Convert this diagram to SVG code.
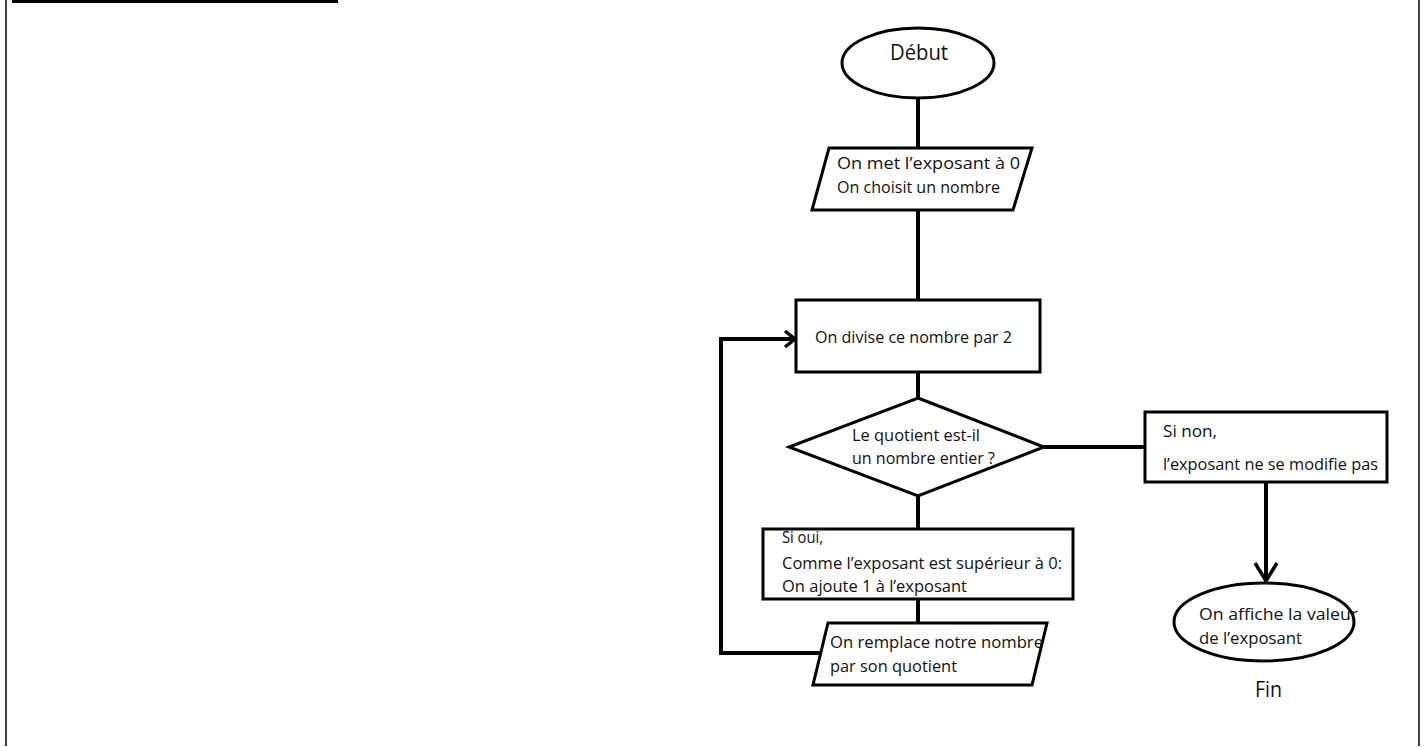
<svg xmlns="http://www.w3.org/2000/svg" width="1427" height="747" viewBox="0 0 1427 747">
<style>
.shape{fill:#fff;stroke:#000;stroke-width:3}
.conn{fill:none;stroke:#000;stroke-width:4}
.head{fill:none;stroke:#000;stroke-width:3.5;stroke-linejoin:miter}
text{font-family:"Open Sans","Liberation Sans",sans-serif;font-size:17px;fill:#111}
.big{font-size:22px}
</style>
<rect width="1427" height="747" fill="#fff"/>
<g id="frame">
<line x1="6" y1="0" x2="6" y2="746" stroke="#000" stroke-width="1.5"/>
<line x1="1419" y1="0" x2="1419" y2="746" stroke="#000" stroke-width="1.5"/>
<line x1="12" y1="1.5" x2="338" y2="1.5" stroke="#000" stroke-width="3"/>
</g>
<g id="connectors">
<line class="conn" x1="918" y1="98" x2="918" y2="148"/>
<line class="conn" x1="918" y1="210" x2="918" y2="300"/>
<line class="conn" x1="918" y1="372" x2="918" y2="398"/>
<line class="conn" x1="918" y1="496" x2="918" y2="529"/>
<line class="conn" x1="918" y1="599" x2="918" y2="623"/>
<line class="conn" x1="1044" y1="447" x2="1145" y2="447"/>
<line class="conn" x1="1266" y1="482" x2="1266" y2="580"/>
<polyline class="head" points="1255,563 1266,581 1277,563"/>
<polyline class="conn" points="821,653 721,653 721,339 793,339"/>
<polyline class="head" points="785,331 795,339 785,347"/>
</g>
<g id="debut">
<ellipse class="shape" cx="918" cy="63" rx="76" ry="35"/>
<text class="big" x="890" y="60" textLength="58" lengthAdjust="spacingAndGlyphs">Début</text>
</g>
<g id="init">
<polygon class="shape" points="829,148 1032,148 1013,210 812,210"/>
<text x="837" y="169" textLength="183" lengthAdjust="spacingAndGlyphs">On met l’exposant à 0</text>
<text x="837" y="193" textLength="163" lengthAdjust="spacingAndGlyphs">On choisit un nombre</text>
</g>
<g id="divise">
<rect class="shape" x="796" y="300" width="244" height="72"/>
<text x="815" y="343" textLength="197" lengthAdjust="spacingAndGlyphs">On divise ce nombre par 2</text>
</g>
<g id="decision">
<polygon class="shape" points="918,398 1044,447 918,496 789,447"/>
<text x="852" y="441" textLength="128" lengthAdjust="spacingAndGlyphs">Le quotient est-il</text>
<text x="852" y="464" textLength="143" lengthAdjust="spacingAndGlyphs">un nombre entier ?</text>
</g>
<g id="sinon">
<rect class="shape" x="1145" y="412" width="242" height="70"/>
<text x="1163" y="437" textLength="54" lengthAdjust="spacingAndGlyphs">Si non,</text>
<text x="1163" y="470" textLength="215" lengthAdjust="spacingAndGlyphs">l’exposant ne se modifie pas</text>
</g>
<g id="sioui">
<rect class="shape" x="763" y="529" width="310" height="70"/>
<text x="782" y="543" textLength="41" lengthAdjust="spacingAndGlyphs">Si oui,</text>
<text x="782" y="569" textLength="280" lengthAdjust="spacingAndGlyphs">Comme l’exposant est supérieur à 0:</text>
<text x="782" y="592" textLength="185" lengthAdjust="spacingAndGlyphs">On ajoute 1 à l’exposant</text>
</g>
<g id="remplace">
<polygon class="shape" points="828,623 1047,623 1032,685 813,685"/>
<text x="830" y="648" textLength="213" lengthAdjust="spacingAndGlyphs">On remplace notre nombre</text>
<text x="830" y="672" textLength="127" lengthAdjust="spacingAndGlyphs">par son quotient</text>
</g>
<g id="affiche">
<ellipse class="shape" cx="1264" cy="622" rx="90" ry="39"/>
<text x="1199" y="620" textLength="159" lengthAdjust="spacingAndGlyphs">On affiche la valeur</text>
<text x="1199" y="644" textLength="103" lengthAdjust="spacingAndGlyphs">de l’exposant</text>
</g>
<g id="fin">
<text class="big" x="1255" y="697" textLength="27" lengthAdjust="spacingAndGlyphs">Fin</text>
</g>
</svg>
